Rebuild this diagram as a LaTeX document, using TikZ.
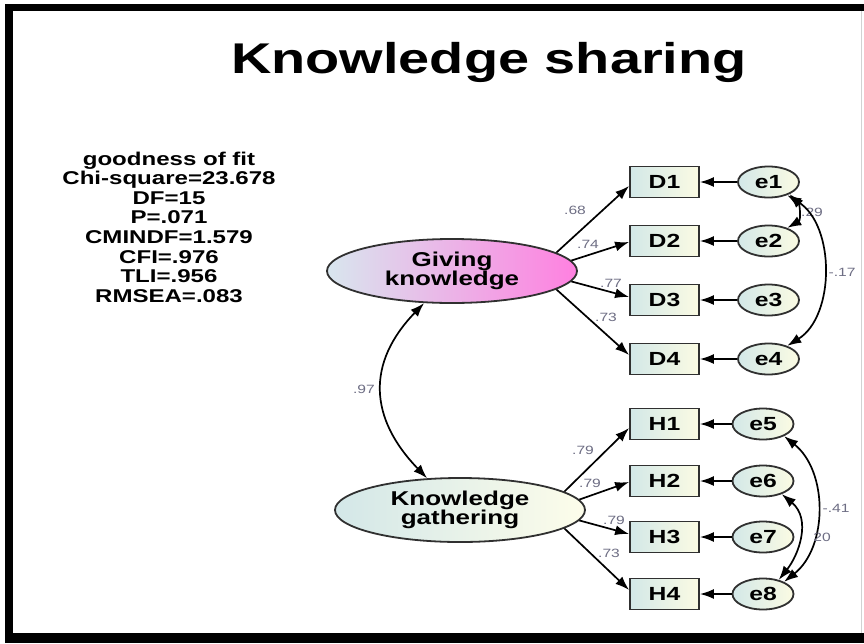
\documentclass[tikz,border=0pt]{standalone}
\usepackage{fontspec}
\setmainfont{Liberation Sans}[FakeStretch=1.3]
\usetikzlibrary{shapes.geometric,arrows.meta}
\definecolor{boxL}{HTML}{D3E8E8}
\definecolor{boxR}{HTML}{FBFBE3}
\definecolor{gkL}{HTML}{D8E6EE}
\definecolor{gkR}{HTML}{FF80E0}
\definecolor{kgL}{HTML}{D3E7E8}
\definecolor{kgR}{HTML}{FDFDEA}
\definecolor{lab}{HTML}{6E6E84}
\definecolor{edge}{HTML}{303030}
\begin{document}
\begin{tikzpicture}[x=1pt,y=-1pt,
 obs/.style={draw=edge, line width=1.8pt, rectangle, minimum width=69pt, minimum height=31pt, inner sep=0pt, left color=boxL, right color=boxR, font=\fontsize{19}{20}\selectfont\bfseries},
 err/.style={draw=edge, line width=1.8pt, ellipse, minimum width=61pt, minimum height=31pt, inner sep=0pt, left color=boxL, right color=boxR, font=\fontsize{19}{20}\selectfont\bfseries},
 lat/.style={draw=edge, line width=1.8pt, ellipse, minimum width=250pt, minimum height=64pt, inner sep=0pt, align=center, font=\fontsize{20}{19.5}\selectfont\bfseries},
 arr/.style={line width=1.7pt, draw=black, -{Latex[length=14pt,width=10pt]}},
 dbl/.style={line width=1.7pt, draw=black, {Latex[length=14pt,width=10pt]}-{Latex[length=14pt,width=10pt]}},
 lbl/.style={text=lab, font=\fontsize{12}{13}\selectfont, inner sep=0pt}
]
\useasboundingbox (0,0) rectangle (864,643);
% frame
\fill[white] (0,0) rectangle (864,643);
\fill[black] (5,4) rectangle (864,11);
\fill[black] (5,4) rectangle (13,643);
\fill[black] (5,633) rectangle (864,643);
\draw[gray!35, line width=1pt] (861.5,11) -- (861.5,633);

% title
\node[font=\fontsize{43}{50}\selectfont\bfseries, anchor=base, inner sep=0pt] (title) at (489,73) {Knowledge sharing};

% fit statistics
\node[font=\fontsize{18.5}{19.6}\selectfont\bfseries, align=center, inner sep=0pt] (fit) at (169,227)
 {goodness of fit\\Chi-square=23.678\\DF=15\\P=.071\\CMINDF=1.579\\CFI=.976\\TLI=.956\\RMSEA=.083};

% latent variables
\node[lat, left color=gkL, right color=gkR] (GK) at (452,271) {Giving\\knowledge};
\node[lat, left color=kgL, right color=kgR] (KG) at (460,510) {Knowledge\\gathering};

% observed
\node[obs] (D1) at (664.5,182) {D1};
\node[obs] (D2) at (664.5,241) {D2};
\node[obs] (D3) at (664.5,300) {D3};
\node[obs] (D4) at (664.5,359) {D4};
\node[obs] (H1) at (664.5,424) {H1};
\node[obs] (H2) at (664.5,481) {H2};
\node[obs] (H3) at (664.5,537) {H3};
\node[obs] (H4) at (664.5,594) {H4};

% errors
\node[err] (e1) at (768.5,182) {e1};
\node[err] (e2) at (768.5,241) {e2};
\node[err] (e3) at (768.5,300) {e3};
\node[err] (e4) at (768.5,359) {e4};
\node[err] (e5) at (763,424) {e5};
\node[err] (e6) at (763,481) {e6};
\node[err] (e7) at (763,537) {e7};
\node[err] (e8) at (763,594) {e8};

% error paths
\foreach \i/\j in {e1/D1,e2/D2,e3/D3,e4/D4,e5/H1,e6/H2,e7/H3,e8/H4}
  \draw[arr] (\i) -- (\j);

% loadings
\draw[arr] (GK.10) -- ([yshift=-4pt]D1.west);
\draw[arr] (GK.5) -- ([yshift=-1pt]D2.west);
\draw[arr] (GK.-5) -- ([yshift=3pt]D3.west);
\draw[arr] (GK.-10) -- ([yshift=4pt]D4.west);
\draw[arr] (KG.10) -- ([yshift=-4pt]H1.west);
\draw[arr] (KG.5) -- ([yshift=-1pt]H2.west);
\draw[arr] (KG.-5) -- ([yshift=3pt]H3.west);
\draw[arr] (KG.-10) -- ([yshift=4pt]H4.west);

\node[lbl] (l1) at (575,210) {.68};
\node[lbl] (l2) at (588,244) {.74};
\node[lbl] (l3) at (611,283) {.77};
\node[lbl] (l4) at (606,317) {.73};
\node[lbl] (l5) at (583,450) {.79};
\node[lbl] (l6) at (590,483) {.79};
\node[lbl] (l7) at (614,520) {.79};
\node[lbl] (l8) at (609,553) {.73};

% latent correlation
\draw[dbl] (GK.-131) .. controls +(-58,60) and +(-58,-60) .. (KG.136);
\node[lbl] (l9) at (364,389) {.97};

% error covariances
\draw[dbl] (e2.35) .. controls +(14,-8) and +(10,10) .. (e1.-30);
\node[lbl] (l10) at (812,212) {.29};
\draw[dbl] (e1.-35) .. controls +(48,30) and +(48,-30) .. (e4.35);
\node[lbl] (l11) at (842,272) {-.17};
\draw[dbl] (e5.-30) .. controls +(44,35) and +(44,-35) .. (e8.30);
\node[lbl] (l12) at (836,508) {-.41};
\draw[dbl] (e6.-35) .. controls +(30,25) and +(20,-25) .. (e8.42);
\node[lbl] (l13) at (822,537) {20};
\end{tikzpicture}
\end{document}
